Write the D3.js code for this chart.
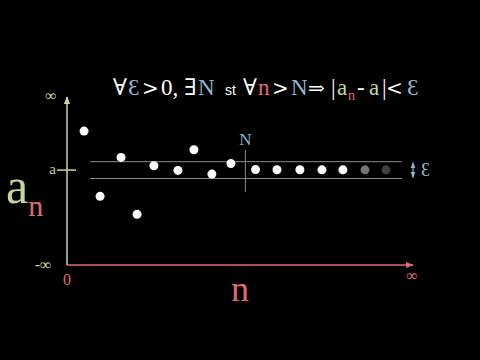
<!DOCTYPE html>
<html lang="en">
<head>
  <meta charset="UTF-8">
  <title>Limit of a sequence</title>
  <script src="https://d3js.org/d3.v7.min.js"></script>
  <style>
    body { margin: 0; background: #000; }
    svg { display: block; background: #000; }
    text { font-family: "Liberation Serif", "DejaVu Serif", serif; }
  </style>
</head>
<body>
<svg width="480" height="360"></svg>

<script>
  // sequence terms: position along n axis and value of a_n (in units of epsilon, a = 0)
  const nPos = [0.79, 1.53, 2.5, 3.24, 4.02, 5.13, 5.87, 6.7, 7.58, 8.72, 9.71, 10.77, 11.79, 12.76, 13.78, 14.75];
  const aVals = [4.64, -3.13, 1.51, -5.27, 0.51, -0.04, 2.42, -0.48, 0.77, 0.06, 0.04, 0.04, 0.03, 0.03, 0.03, 0.03];
  const fade = [1, 1, 1, 1, 1, 1, 1, 1, 1, 1, 1, 1, 1, 1, 0.45, 0.25];
  const epsilon = 1;
  const bigN = 8.25;

  const green = "#c5d69e", red = "#e06a6c", blue = "#8fb6cc", grey = "#8a8a8a";

  const svg = d3.select("svg");

  const x = d3.scaleLinear().domain([0, 16]).range([67, 413]);
  const y = d3.scaleLinear().domain([-11.3, 8.7]).range([265, 97]);

  const defs = svg.append("defs");
  function arrow(id, color, size) {
    defs.append("marker")
      .attr("id", id)
      .attr("viewBox", "0 0 10 10")
      .attr("refX", 9).attr("refY", 5)
      .attr("markerUnits", "userSpaceOnUse")
      .attr("markerWidth", size).attr("markerHeight", size)
      .attr("orient", "auto-start-reverse")
      .append("path")
      .attr("d", "M0,1 L10,5 L0,9 z")
      .attr("fill", color);
  }
  arrow("arG", green, 8);
  arrow("arR", red, 8);
  arrow("arB", blue, 6);

  // epsilon band
  [epsilon, -epsilon].forEach(v => {
    svg.append("line")
      .attr("x1", x(1.06)).attr("x2", x(15.485))
      .attr("y1", y(v)).attr("y2", y(v))
      .attr("stroke", grey).attr("stroke-width", 1);
  });

  // N marker
  svg.append("line")
    .attr("x1", x(bigN)).attr("x2", x(bigN))
    .attr("y1", y(2.4)).attr("y2", y(-2.6))
    .attr("stroke", grey).attr("stroke-width", 1);
  svg.append("text")
    .attr("x", x(bigN)).attr("y", y(2.95))
    .attr("text-anchor", "middle")
    .attr("font-size", 17).attr("fill", blue)
    .text("N");

  // axes
  svg.append("line")
    .attr("x1", x(0)).attr("x2", x(16))
    .attr("y1", y(-11.3)).attr("y2", y(-11.3))
    .attr("stroke", red).attr("stroke-width", 1.5)
    .attr("marker-end", "url(#arR)");
  svg.append("line")
    .attr("x1", x(0)).attr("x2", x(0))
    .attr("y1", y(-11.3)).attr("y2", y(8.7))
    .attr("stroke", green).attr("stroke-width", 1.5)
    .attr("marker-end", "url(#arG)");

  // tick at a
  svg.append("line")
    .attr("x1", x(0) - 10).attr("x2", x(0) + 9)
    .attr("y1", y(0)).attr("y2", y(0))
    .attr("stroke", green).attr("stroke-width", 1.5);
  svg.append("text")
    .attr("x", x(0) - 11).attr("y", y(0) + 4)
    .attr("text-anchor", "end")
    .attr("font-size", 15).attr("fill", green)
    .text("a");

  // axis end labels
  svg.append("text")
    .attr("x", x(0) - 16).attr("y", y(8.7) + 4)
    .attr("text-anchor", "middle").attr("font-size", 16).attr("fill", green)
    .text("∞");
  svg.append("text")
    .attr("x", x(0) - 24).attr("y", y(-11.3) + 5)
    .attr("text-anchor", "middle").attr("font-size", 16).attr("fill", green)
    .text("-∞");
  svg.append("text")
    .attr("x", x(0)).attr("y", y(-11.3) + 20)
    .attr("text-anchor", "middle").attr("font-size", 16).attr("fill", red)
    .text("0");
  svg.append("text")
    .attr("x", x(16) - 1).attr("y", y(-11.3) + 16)
    .attr("text-anchor", "middle").attr("font-size", 16).attr("fill", red)
    .text("∞");

  // axis titles
  svg.append("text")
    .attr("x", x(8)).attr("y", 301)
    .attr("text-anchor", "middle").attr("font-size", 36).attr("fill", red)
    .text("n");
  const yt = svg.append("text").attr("x", 6).attr("y", 203);
  yt.append("tspan").attr("font-size", 50).attr("fill", green).text("a");
  yt.append("tspan").attr("font-size", 30).attr("fill", red).attr("dy", 13).text("n");

  // epsilon indicator
  svg.append("line")
    .attr("x1", x(16)).attr("x2", x(16))
    .attr("y1", y(epsilon) + 1).attr("y2", y(-epsilon) - 1)
    .attr("stroke", blue).attr("stroke-width", 1.2)
    .attr("marker-start", "url(#arB)")
    .attr("marker-end", "url(#arB)");
  svg.append("text")
    .attr("x", x(16) + 8).attr("y", y(0) + 6)
    .attr("font-size", 18).attr("fill", blue)
    .text("Ɛ");

  // sequence points
  svg.selectAll("circle.pt")
    .data(nPos.map((n, i) => ({ n, a: aVals[i], o: fade[i] })))
    .join("circle")
    .attr("class", "pt")
    .attr("cx", d => x(d.n))
    .attr("cy", d => y(d.a))
    .attr("r", 4.5)
    .attr("fill", "#fff")
    .attr("fill-opacity", d => d.o);

  // definition: [text, colour, left edge, font size, family, baseline shift]
  const sym = "DejaVu Serif";
  const parts = [
    ["∀", "#fff", 113], ["Ɛ", blue, 128], [">", "#fff", 142, 20, sym], ["0,", "#fff", 161],
    ["∃", "#fff", 184], ["N", blue, 198],
    ["st", "#fff", 225, 14, "Liberation Sans"],
    ["∀", "#fff", 243], ["n", red, 258], [">", "#fff", 272, 20, sym], ["N", blue, 291],
    ["⇒", "#fff", 308, 20, sym], ["|", "#fff", 331], ["a", green, 337],
    ["n", red, 348, 14, null, 5], ["-", "#fff", 357],
    ["a", green, 369], ["|", "#fff", 382], ["<", "#fff", 386, 20, sym], ["Ɛ", blue, 407]
  ];
  const def = svg.append("text").attr("font-size", 23);
  parts.forEach(p => {
    const t = def.append("tspan")
      .attr("x", p[2])
      .attr("y", 95 + (p[5] || 0))
      .attr("fill", p[1])
      .text(p[0]);
    if (p[3]) t.attr("font-size", p[3]);
    if (p[4]) t.attr("font-family", p[4]);
  });
</script>
</body>
</html>
